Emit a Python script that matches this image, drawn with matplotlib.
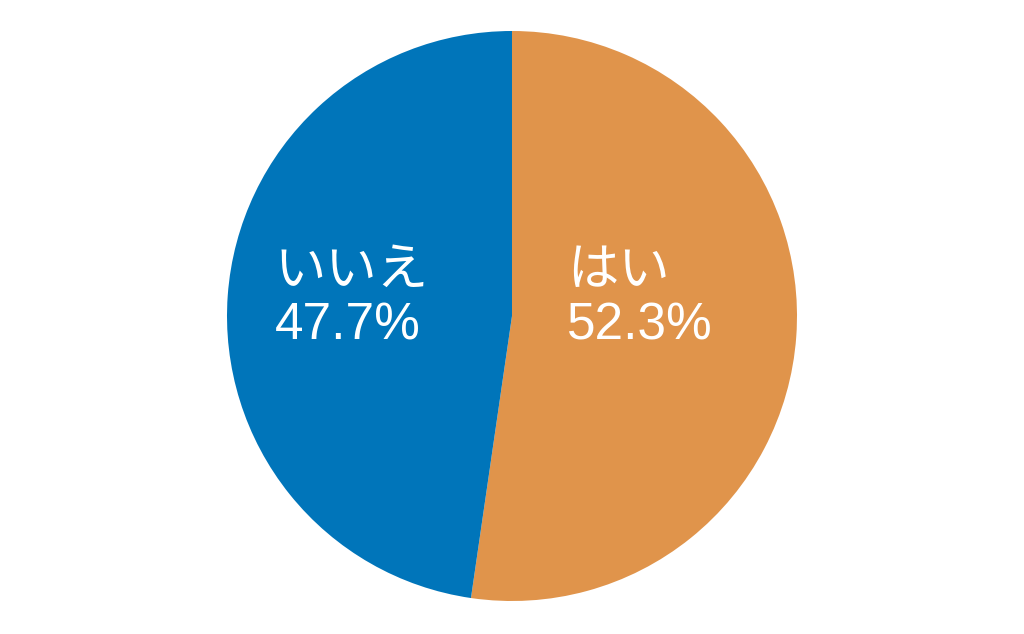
import matplotlib
matplotlib.use("Agg")
import matplotlib.pyplot as plt

plt.rcParams['font.family'] = ['Liberation Sans', 'Noto Sans CJK JP', 'DejaVu Sans']

labels = ['はい', 'いいえ']
values = [52.3, 47.7]
colors = ['#E0944B', '#0075BA']

fig = plt.figure(figsize=(10.24, 6.34), dpi=100)
ax = fig.add_axes([227 / 1024, 33 / 634, 570 / 1024, 570 / 634])

wedges, _ = ax.pie(values, colors=colors, startangle=90, counterclock=False,
                   radius=1.0, wedgeprops=dict(linewidth=0))

# label positions (in radius units), left-aligned blocks
label_pos = [(0.193, 0.06), (-0.832, 0.06)]
for lab, val, (x, y) in zip(labels, values, label_pos):
    ax.text(x, y, f'{lab}\n{val:.1f}%', ha='left', va='center',
            multialignment='left', color='white', fontsize=37, linespacing=1.15)

ax.set_xlim(-1, 1)
ax.set_ylim(-1, 1)
ax.set_aspect('equal')
ax.axis('off')

fig.savefig('out.png', dpi=100)
